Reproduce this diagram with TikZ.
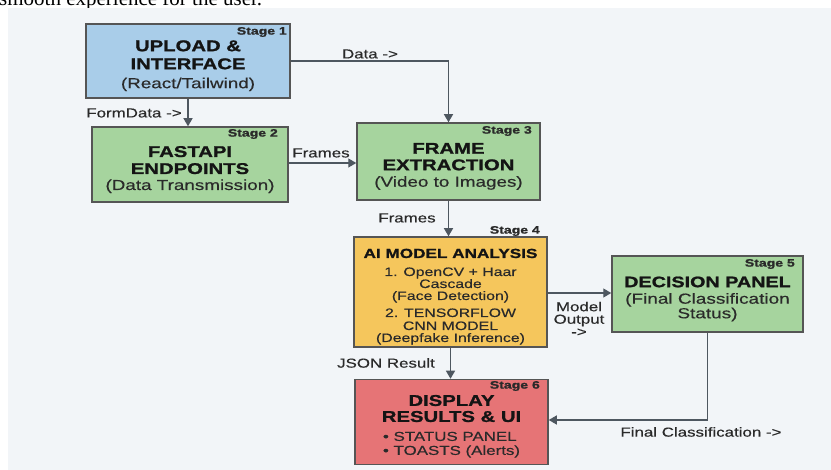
\documentclass[tikz,border=0pt]{standalone}
\usepackage{fontspec}
\setmainfont{Liberation Sans}[FakeStretch=1.3, FakeBold=0.4, BoldFeatures={FakeBold=1.2}]
\newfontfamily\serifpart{Liberation Serif}
\usetikzlibrary{arrows.meta}
\definecolor{bgpanel}{HTML}{F2F5F8}
\definecolor{lineC}{HTML}{4E5760}
\definecolor{borderC}{HTML}{555555}
\definecolor{blueF}{HTML}{A9CDE9}
\definecolor{greenF}{HTML}{A6D49E}
\definecolor{yellowF}{HTML}{F5C65C}
\definecolor{redF}{HTML}{E67476}
\definecolor{headC}{HTML}{141414}
\definecolor{bodyC}{HTML}{2A2A2A}
\newcommand\hdA{\fontsize{15.6}{18}\selectfont\bfseries\color{headC}}
\newcommand\bdA{\fontsize{14.5}{18}\selectfont\color{bodyC}}
\newcommand\hdB{\fontsize{13.2}{12}\selectfont\bfseries\color{headC}}
\newcommand\bdB{\fontsize{12.2}{12}\selectfont\color{bodyC}}
\newcommand\tstrut[1]{\rule{0pt}{#1}}
\begin{document}
\begin{tikzpicture}[x=1pt,y=-1pt,
  box/.style={draw=borderC, line width=1.5pt, align=center, inner sep=0pt},
  stagelbl/.style={font=\fontsize{10.8}{12}\selectfont\bfseries, text=bodyC, anchor=east, inner sep=0pt},
  lbl/.style={font=\fontsize{13}{12.5}\selectfont, text=bodyC, align=center, inner sep=0pt},
  conn/.style={draw=lineC, line width=1.3pt, -{Triangle[length=8pt,width=9pt]}}]
\useasboundingbox (0,0) rectangle (831,470);
\fill[white] (0,0) rectangle (831,470);
\begin{scope}
  \clip (0,0) rectangle (831,8);
  \node[anchor=base west, inner sep=0pt, font=\serifpart\fontsize{21}{24}\selectfont] (toptext) at (-1,5.5) {smooth experience for the user.};
\end{scope}
\fill[bgpanel] (8,8) rectangle (831,470);

% boxes
\node[box, fill=blueF, minimum width=204pt, minimum height=74pt, font=\fontsize{15.6}{18}\selectfont] (b1) at (188,61)
  {\hdA\tstrut{20.4pt}UPLOAD \&\\ \hdA INTERFACE\\[1pt] \bdA (React/Tailwind)};
\node[box, fill=greenF, minimum width=196pt, minimum height=75pt, font=\fontsize{15.6}{17}\selectfont] (b2) at (190,164.5)
  {\hdA\tstrut{21pt}FASTAPI\\ \hdA ENDPOINTS\\[-1pt] \bdA (Data Transmission)};
\node[box, fill=greenF, minimum width=183pt, minimum height=77pt, font=\fontsize{15.6}{16.5}\selectfont] (b3) at (448.5,161.5)
  {\hdA\tstrut{20.5pt}FRAME\\ \hdA EXTRACTION\\ \bdA (Video to Images)};
\node[box, fill=yellowF, minimum width=193pt, minimum height=110pt, font=\fontsize{12.2}{12}\selectfont] (b4) at (450.5,292)
  {\hdB\tstrut{18.5pt}AI MODEL ANALYSIS\\[6pt] \bdB 1. OpenCV + Haar\\ \bdB Cascade\\ \bdB (Face Detection)\\[5pt] \bdB 2. TENSORFLOW\\[1pt] \bdB CNN MODEL\\ \bdB (Deepfake Inference)};
\node[box, fill=greenF, minimum width=191pt, minimum height=76pt, font=\fontsize{14.6}{12.5}\selectfont] (b5) at (707.5,294)
  {\fontsize{15.2}{12.5}\selectfont\bfseries\color{headC}\tstrut{20.5pt}DECISION PANEL\\[4pt] \color{bodyC} (Final Classification\\ \color{bodyC} Status)};
\node[box, fill=redF, minimum width=193pt, minimum height=85pt, font=\fontsize{15.6}{16}\selectfont] (b6) at (451.5,422)
  {\hdA\tstrut{19.5pt}DISPLAY\\ \hdA RESULTS \& UI\\[3pt]
   \fontsize{13}{14}\selectfont\color{bodyC}\rlap{\textbullet\ STATUS PANEL}\phantom{\textbullet\ TOASTS (Alerts)}\\[-2pt]
   \fontsize{13}{14}\selectfont\color{bodyC}\textbullet\ TOASTS (Alerts)};

% stage labels
\node[stagelbl] (s1) at (287,32) {Stage 1};
\node[stagelbl] (s2) at (278,134) {Stage 2};
\node[stagelbl] (s3) at (532,131) {Stage 3};
\node[stagelbl] (s4) at (540,231) {Stage 4};
\node[stagelbl] (s5) at (795,264) {Stage 5};
\node[stagelbl] (s6) at (540,386) {Stage 6};

% connectors
\draw[conn] (b1.east) -| (b3.north);
\draw[conn] (b1.south) -- (b1.south |- b2.north);
\draw[conn] (b2.east |- 0,163) -- (b3.west |- 0,163);
\draw[conn] (b3.south) -- (b3.south |- b4.north);
\draw[conn] (b4.east |- 0,293) -- (b5.west |- 0,293);
\draw[conn] (b4.south) -- (b4.south |- b6.north);
\draw[conn] (b5.south) |- (b6.east |- 0,420);

% labels
\node[lbl] (l1) at (370,54) {Data ->};
\node[lbl] (l2) at (134,113) {FormData ->};
\node[lbl] (l3) at (321,153) {Frames};
\node[lbl] (l4) at (407,218) {Frames};
\node[lbl] (l5) at (579,319) {Model\\Output\\->};
\node[lbl] (l6) at (386,363) {JSON Result};
\node[lbl] (l7) at (701,432) {Final Classification ->};
\end{tikzpicture}
\end{document}
